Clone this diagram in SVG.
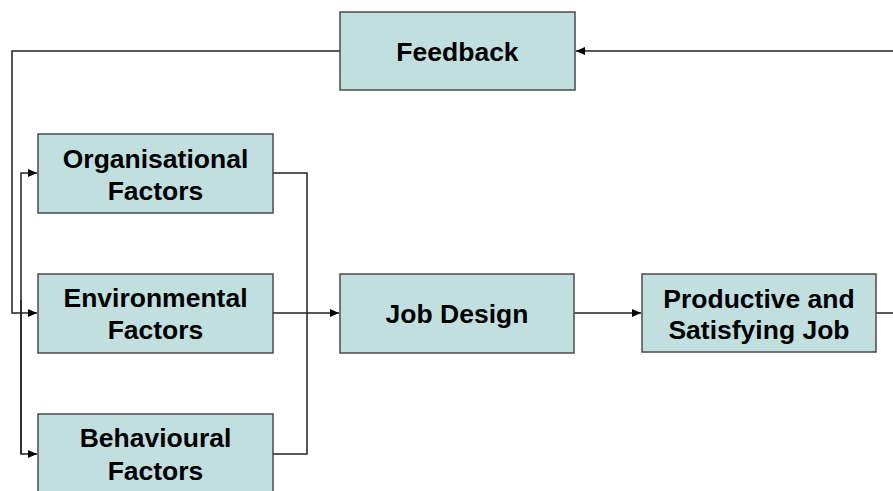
<svg xmlns="http://www.w3.org/2000/svg" width="893" height="491" viewBox="0 0 893 491">
<style>
.box{fill:#c2dfe0;stroke:#4a4a4a;stroke-width:1.5}
.t{font-family:"Liberation Sans",Arial,sans-serif;font-weight:bold;font-size:26.5px;fill:#000;text-anchor:middle}
.c{fill:none;stroke:#222;stroke-width:1.5}
</style>
<defs>
<marker id="ah" markerWidth="10" markerHeight="8" refX="9" refY="4" orient="auto" markerUnits="userSpaceOnUse">
<path d="M0,0 L9,4 L0,8 Z" fill="#000"/>
</marker>
</defs>
<rect width="893" height="491" fill="#fff"/>
<g id="connectors">
<path class="c" d="M893,51 H576" marker-end="url(#ah)"/>
<path class="c" d="M340,51 H12 V313 H37" marker-end="url(#ah)"/>
<path class="c" d="M21,454 V173 H37" marker-end="url(#ah)"/>
<path class="c" d="M21,300 V454 H37" marker-end="url(#ah)"/>
<path class="c" d="M273,173 H307 V454 H273"/>
<path class="c" d="M273,313 H339" marker-end="url(#ah)"/>
<path class="c" d="M574,313 H641" marker-end="url(#ah)"/>
<path class="c" d="M876,313 H893"/>
</g>
<g id="feedback">
<rect class="box" x="340" y="12" width="235" height="78"/>
<text class="t" x="457.5" y="60.5">Feedback</text>
</g>
<g id="organisational">
<rect class="box" x="38" y="134" width="235" height="79"/>
<text class="t" x="155.5" y="168">Organisational</text>
<text class="t" x="155.5" y="200">Factors</text>
</g>
<g id="environmental">
<rect class="box" x="38" y="274" width="235" height="79"/>
<text class="t" x="155.5" y="307">Environmental</text>
<text class="t" x="155.5" y="339">Factors</text>
</g>
<g id="behavioural">
<rect class="box" x="38" y="414" width="235" height="79"/>
<text class="t" x="155.5" y="447">Behavioural</text>
<text class="t" x="155.5" y="480">Factors</text>
</g>
<g id="jobdesign">
<rect class="box" x="340" y="274" width="234" height="79"/>
<text class="t" x="457" y="323">Job Design</text>
</g>
<g id="productive">
<rect class="box" x="642" y="274" width="234" height="78"/>
<text class="t" x="759" y="308">Productive and</text>
<text class="t" x="759" y="339">Satisfying Job</text>
</g>
</svg>
